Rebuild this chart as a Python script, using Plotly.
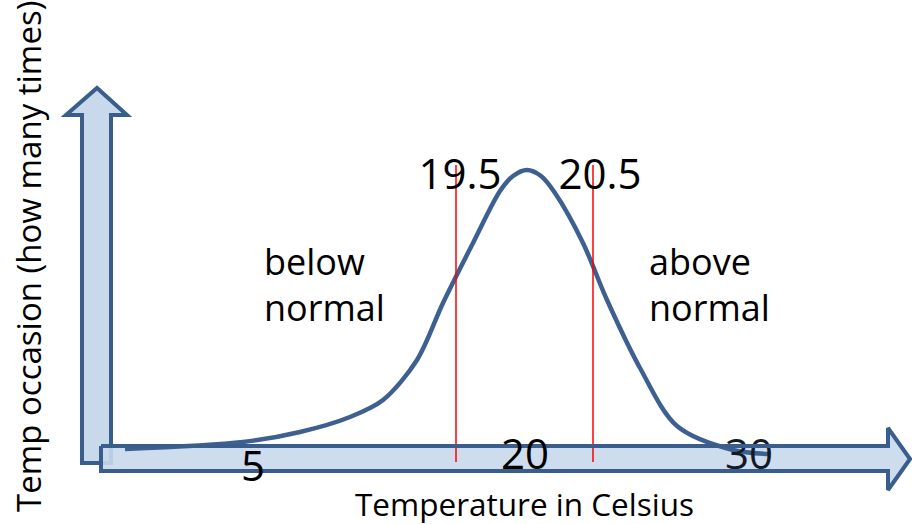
import plotly.graph_objects as go

# Diagram coordinate system (x to the right, y downward), same extent as the picture
W, H = 912, 524

# Bell curve (schematic frequency of temperatures)
curve_x = [125, 243, 300, 350, 383, 417, 443, 473, 500, 513, 527, 541, 555, 583, 607, 640, 677, 733, 770]
curve_y = [449, 442, 432, 417, 400, 360, 303, 243, 191, 176, 170, 176, 193, 243, 300, 368, 426, 450, 454]

# Boundaries of "normal" (19.5 and 20.5)
bound_labels = ["19.5", "20.5"]
bound_x = [456, 593]
bound_top, bound_bottom = 165, 462
bound_label_x = [460, 600]
bound_label_y = [178, 178]

# Tick labels on the temperature arrow
tick_labels = ["5", "20"]
tick_x = [253, 525]
tick_y = [470, 458]
hidden_tick_label = ["30"]          # partly hidden behind the arrow in the original
hidden_tick_x = [749]
hidden_tick_y = [458]

# Region labels
region_labels = ["below<br>normal", "above<br>normal"]
region_x = [264, 649]
region_y = [289, 289]

x_title = "Temperature in Celsius"
y_title = "Temp occasion (how many times)"

OUTLINE = "#3a5e8c"
FILL = "#c9d9ec"
FONT = "Open Sans"

# Block arrow outlines
v_arrow = "M 82,463 L 82,115 L 66,115 L 97,88 L 127,115 L 111,115 L 111,463 Z"
h_arrow_x = [101, 888, 888, 910, 888, 888, 101, 101]
h_arrow_y = [446, 446, 428, 459, 490, 471, 471, 446]
h_arrow = "M " + " L ".join(f"{a},{b}" for a, b in zip(h_arrow_x, h_arrow_y)) + " Z"

fig = go.Figure()

# Curve
fig.add_trace(go.Scatter(x=curve_x, y=curve_y, mode="lines",
                         line=dict(color="#3d6090", width=4.5, shape="spline", smoothing=0.9),
                         hoverinfo="skip", showlegend=False))

# Red boundary lines
rx, ry = [], []
for bx in bound_x:
    rx += [bx, bx, None]
    ry += [bound_top, bound_bottom, None]
fig.add_trace(go.Scatter(x=rx, y=ry, mode="lines", line=dict(color="#ff0000", width=1.5),
                         hoverinfo="skip", showlegend=False))

# "30" sits under the arrow outline
fig.add_trace(go.Scatter(x=hidden_tick_x, y=hidden_tick_y, mode="text", text=hidden_tick_label,
                         textfont=dict(family=FONT, size=42, color="#111a26"),
                         hoverinfo="skip", showlegend=False))

# Horizontal arrow outline (drawn over the red lines and "30")
fig.add_trace(go.Scatter(x=h_arrow_x, y=h_arrow_y, mode="lines",
                         line=dict(color=OUTLINE, width=4), hoverinfo="skip", showlegend=False))

# Boundary labels
fig.add_trace(go.Scatter(x=bound_label_x, y=bound_label_y, mode="text", text=bound_labels,
                         textfont=dict(family=FONT, size=42, color="black"),
                         hoverinfo="skip", showlegend=False))

# Tick labels
fig.add_trace(go.Scatter(x=tick_x, y=tick_y, mode="text", text=tick_labels,
                         textfont=dict(family=FONT, size=42, color="black"),
                         hoverinfo="skip", showlegend=False))

# Region labels
fig.add_trace(go.Scatter(x=region_x, y=region_y, mode="text", text=region_labels,
                         textposition="middle right",
                         textfont=dict(family=FONT, size=36, color="black"),
                         hoverinfo="skip", showlegend=False))

shapes = [
    dict(type="path", path=v_arrow, xref="x", yref="y", fillcolor=FILL,
         line=dict(color=OUTLINE, width=4), layer="below"),
    dict(type="path", path=h_arrow, xref="x", yref="y", fillcolor=FILL, opacity=0.9,
         line=dict(width=0), layer="below"),
]

annotations = [
    dict(x=524, y=503, xref="x", yref="y", text=x_title, showarrow=False,
         font=dict(family=FONT, size=31.5, color="black"), xanchor="center", yanchor="middle"),
    dict(x=28, y=257, xref="x", yref="y", text=y_title, showarrow=False, textangle=-90,
         font=dict(family=FONT, size=33, color="black"), xanchor="center", yanchor="middle"),
]

fig.update_layout(
    width=W, height=H, autosize=False,
    margin=dict(l=0, r=0, t=0, b=0, pad=0),
    paper_bgcolor="white", plot_bgcolor="white",
    xaxis=dict(range=[0, W], visible=False, fixedrange=True),
    yaxis=dict(range=[H, 0], visible=False, fixedrange=True),
    shapes=shapes, annotations=annotations, showlegend=False,
)

fig.write_html("out.html", config={"displayModeBar": False},
               post_script="document.body.style.margin='0';document.body.style.overflow='hidden';")
